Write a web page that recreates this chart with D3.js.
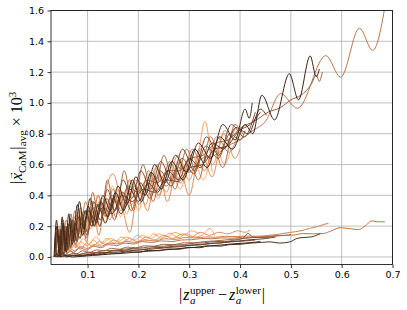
<!DOCTYPE html>
<meta charset="utf-8">
<title>CoM drift vs layer separation</title>
<style>
body { margin: 0; background: white; }
.tick line { stroke: #000; stroke-width: 0.8; }
.grid line { stroke: #b0b0b0; stroke-width: 0.8; }
.math { font-family: "Liberation Serif", "DejaVu Serif", serif; fill: #000; }
</style>
<body>
<script src="https://d3js.org/d3.v7.min.js"></script>
<script>
// tick values
const xTicks = [0.1, 0.2, 0.3, 0.4, 0.5, 0.6, 0.7];
const yTicks = [0, 0.2, 0.4, 0.6, 0.8, 1.0, 1.2, 1.4, 1.6];

// upper family of runs, darkest first (peaks / troughs)
const upperA = [[0.034,0.0],[0.039,0.24],[0.044,0.02],[0.05,0.26],[0.056,0.04],[0.063,0.28],[0.07,0.08],[0.08,0.34],[0.09,0.14],[0.101,0.33],[0.113,0.2],[0.126,0.36],[0.14,0.26],[0.155,0.42],[0.171,0.3],[0.188,0.5],[0.206,0.36],[0.225,0.55],[0.245,0.44],[0.266,0.62],[0.288,0.5],[0.311,0.7],[0.335,0.58],[0.36,0.78],[0.385,0.7],[0.41,0.86],[0.425,0.8],[0.443,1.05],[0.468,0.89],[0.497,1.19],[0.515,1.02],[0.538,1.305],[0.55,1.17],[0.556,1.22]];
const upperB = [[0.035,0.05],[0.04,0.2],[0.046,0.0],[0.052,0.22],[0.058,0.03],[0.066,0.25],[0.074,0.1],[0.084,0.36],[0.093,0.18],[0.105,0.38],[0.117,0.22],[0.13,0.4],[0.145,0.3],[0.16,0.46],[0.177,0.34],[0.195,0.52],[0.213,0.4],[0.232,0.6],[0.252,0.48],[0.273,0.66],[0.295,0.55],[0.318,0.74],[0.342,0.64],[0.366,0.86],[0.39,0.76],[0.41,0.96],[0.418,0.9],[0.424,1.0]];
const upperC = [[0.036,0.1],[0.041,0.0],[0.047,0.18],[0.053,0.02],[0.06,0.2],[0.067,0.06],[0.075,0.22],[0.085,0.12],[0.096,0.3],[0.108,0.2],[0.121,0.34],[0.135,0.22],[0.15,0.38],[0.166,0.28],[0.183,0.44],[0.2,0.36],[0.219,0.48],[0.238,0.42],[0.258,0.56],[0.279,0.5],[0.3,0.64],[0.322,0.58],[0.345,0.74],[0.368,0.7],[0.392,0.84],[0.416,0.8],[0.44,0.96],[0.452,0.92]];
const upperD = [[0.035,0.03],[0.04,0.16],[0.045,0.04],[0.051,0.2],[0.057,0.08],[0.064,0.22],[0.072,0.12],[0.081,0.26],[0.091,0.2],[0.102,0.3],[0.115,0.24],[0.13,0.32],[0.148,0.28],[0.168,0.4],[0.188,0.36],[0.21,0.44],[0.232,0.42],[0.255,0.5],[0.278,0.49],[0.302,0.58],[0.326,0.6],[0.35,0.7],[0.374,0.72],[0.398,0.82],[0.42,0.86],[0.44,0.94]];
const upperE = [[0.037,0.02],[0.043,0.14],[0.049,0.01],[0.055,0.17],[0.062,0.05],[0.07,0.24],[0.079,0.1],[0.089,0.28],[0.1,0.16],[0.112,0.36],[0.125,0.24],[0.139,0.44],[0.154,0.3],[0.17,0.5],[0.187,0.38],[0.205,0.56],[0.224,0.44],[0.244,0.62],[0.265,0.5],[0.287,0.7],[0.31,0.56],[0.334,0.78],[0.358,0.66],[0.383,0.86],[0.408,0.78],[0.43,0.94]];
const upperF = [[0.035,0.0],[0.041,0.12],[0.047,0.03],[0.054,0.2],[0.061,0.06],[0.069,0.22],[0.078,0.12],[0.088,0.26],[0.099,0.14],[0.111,0.32],[0.124,0.2],[0.138,0.38],[0.153,0.24],[0.169,0.42],[0.186,0.3],[0.204,0.48],[0.223,0.38],[0.243,0.56],[0.264,0.46],[0.286,0.64],[0.309,0.54],[0.333,0.72],[0.357,0.64],[0.38,0.8],[0.4,0.76],[0.41,0.82]];
const upperG = [[0.036,0.04],[0.042,0.18],[0.048,0.05],[0.055,0.2],[0.063,0.1],[0.072,0.24],[0.082,0.16],[0.093,0.3],[0.105,0.22],[0.118,0.34],[0.132,0.28],[0.147,0.4],[0.163,0.34],[0.18,0.46],[0.198,0.42],[0.217,0.5],[0.237,0.48],[0.258,0.56],[0.28,0.56],[0.303,0.64],[0.327,0.66],[0.352,0.74],[0.377,0.76],[0.402,0.84],[0.428,0.88],[0.455,0.94],[0.48,0.97],[0.5,1.02],[0.52,1.05],[0.54,1.12],[0.55,1.18],[0.556,1.14],[0.562,1.2]];
const upperH = [[0.035,0.06],[0.04,0.2],[0.046,0.02],[0.052,0.24],[0.059,0.04],[0.067,0.28],[0.076,0.08],[0.086,0.32],[0.097,0.12],[0.11,0.42],[0.124,0.2],[0.139,0.5],[0.155,0.26],[0.172,0.56],[0.19,0.3],[0.209,0.6],[0.229,0.36],[0.25,0.66],[0.272,0.44],[0.295,0.7],[0.318,0.5],[0.342,0.78],[0.366,0.58],[0.39,0.86],[0.405,0.8]];
const upperI = [[0.036,0.02],[0.042,0.15],[0.049,0.04],[0.057,0.2],[0.065,0.1],[0.074,0.26],[0.084,0.15],[0.096,0.3],[0.109,0.2],[0.123,0.36],[0.138,0.26],[0.155,0.4],[0.173,0.32],[0.192,0.46],[0.212,0.4],[0.233,0.52],[0.255,0.46],[0.278,0.58],[0.3,0.55],[0.325,0.64],[0.35,0.66],[0.375,0.72],[0.4,0.76],[0.425,0.82],[0.45,0.88],[0.48,1.06],[0.513,0.965],[0.569,1.307],[0.598,1.167],[0.635,1.485],[0.661,1.34],[0.69,1.72]];
const upperJ = [[0.037,0.08],[0.043,0.2],[0.05,0.06],[0.058,0.24],[0.066,0.12],[0.075,0.3],[0.085,0.16],[0.096,0.36],[0.108,0.22],[0.121,0.4],[0.135,0.26],[0.15,0.44],[0.166,0.3],[0.183,0.5],[0.201,0.34],[0.22,0.56],[0.24,0.4],[0.261,0.62],[0.283,0.48],[0.306,0.7],[0.33,0.56],[0.354,0.78],[0.378,0.68],[0.4,0.84]];
const upperK = [[0.036,0.0],[0.041,0.16],[0.047,0.0],[0.053,0.18],[0.06,0.02],[0.068,0.22],[0.077,0.06],[0.087,0.3],[0.098,0.1],[0.11,0.36],[0.122,0.14],[0.135,0.42],[0.15,0.54],[0.166,0.36],[0.183,0.16],[0.2,0.44],[0.218,0.3],[0.237,0.6],[0.257,0.36],[0.278,0.62],[0.3,0.4],[0.322,0.7],[0.345,0.52],[0.368,0.8],[0.39,0.64],[0.4,0.7]];
const upperL = [[0.035,0.02],[0.04,0.14],[0.046,0.04],[0.052,0.18],[0.059,0.06],[0.066,0.24],[0.074,0.1],[0.083,0.26],[0.093,0.14],[0.104,0.3],[0.116,0.2],[0.129,0.38],[0.144,0.24],[0.16,0.44],[0.177,0.28],[0.195,0.5],[0.214,0.34],[0.234,0.58],[0.255,0.42],[0.277,0.66],[0.3,0.5],[0.323,0.72],[0.346,0.6],[0.37,0.82],[0.383,0.78],[0.39,0.84]];
const upperM = [[0.036,0.05],[0.042,0.1],[0.048,0.02],[0.055,0.14],[0.062,0.04],[0.07,0.18],[0.079,0.1],[0.089,0.24],[0.1,0.16],[0.112,0.3],[0.125,0.24],[0.139,0.36],[0.154,0.3],[0.17,0.42],[0.187,0.34],[0.205,0.48],[0.224,0.4],[0.244,0.52],[0.265,0.46],[0.287,0.6],[0.31,0.54],[0.331,0.88],[0.345,0.55]];
const upperN = [[0.037,0.03],[0.043,0.12],[0.05,0.02],[0.057,0.16],[0.065,0.06],[0.074,0.22],[0.084,0.12],[0.095,0.3],[0.107,0.18],[0.12,0.4],[0.134,0.22],[0.149,0.46],[0.165,0.26],[0.182,0.5],[0.2,0.3],[0.219,0.54],[0.239,0.38],[0.26,0.6],[0.282,0.44],[0.305,0.66],[0.328,0.5],[0.35,0.72],[0.37,0.6],[0.38,0.68]];

// lower family of runs, darkest first
const lowerA = [[0.034,0.0],[0.04,0.02],[0.046,0.0],[0.055,0.01],[0.07,0.0],[0.09,0.005],[0.11,0.01],[0.13,0.015],[0.15,0.02],[0.17,0.024],[0.19,0.03],[0.21,0.035],[0.23,0.04],[0.25,0.046],[0.27,0.05],[0.29,0.058],[0.31,0.062],[0.33,0.07],[0.35,0.074],[0.37,0.08],[0.39,0.086],[0.41,0.09],[0.43,0.096],[0.44,0.1]];
const lowerB = [[0.035,0.01],[0.042,0.0],[0.05,0.02],[0.06,0.004],[0.075,0.012],[0.09,0.006],[0.105,0.018],[0.12,0.014],[0.14,0.026],[0.16,0.024],[0.18,0.034],[0.2,0.03],[0.22,0.042],[0.24,0.04],[0.26,0.052],[0.28,0.05],[0.3,0.062],[0.32,0.06],[0.34,0.072],[0.36,0.07],[0.38,0.08],[0.4,0.082],[0.42,0.09],[0.44,0.094],[0.459,0.098],[0.478,0.09],[0.498,0.098],[0.512,0.12],[0.524,0.126],[0.54,0.13],[0.558,0.152]];
const lowerC = [[0.035,0.02],[0.04,0.005],[0.048,0.015],[0.058,0.0],[0.07,0.01],[0.085,0.008],[0.1,0.016],[0.12,0.02],[0.14,0.03],[0.16,0.032],[0.18,0.04],[0.2,0.044],[0.22,0.05],[0.24,0.055],[0.26,0.062],[0.28,0.066],[0.3,0.074],[0.32,0.078],[0.34,0.088],[0.36,0.09],[0.38,0.1],[0.4,0.104],[0.42,0.112],[0.44,0.116],[0.46,0.124],[0.47,0.13]];
const lowerD = [[0.036,0.0],[0.044,0.01],[0.052,0.002],[0.062,0.014],[0.075,0.01],[0.09,0.02],[0.105,0.018],[0.12,0.03],[0.135,0.028],[0.15,0.04],[0.17,0.042],[0.19,0.052],[0.21,0.05],[0.23,0.06],[0.25,0.062],[0.27,0.07],[0.29,0.072],[0.31,0.08],[0.33,0.082],[0.35,0.09],[0.37,0.094],[0.39,0.1],[0.41,0.104],[0.43,0.11]];
const lowerE = [[0.035,0.03],[0.042,0.01],[0.05,0.03],[0.06,0.01],[0.072,0.024],[0.085,0.016],[0.1,0.03],[0.115,0.028],[0.13,0.04],[0.15,0.042],[0.17,0.05],[0.19,0.056],[0.21,0.06],[0.23,0.068],[0.25,0.07],[0.27,0.078],[0.29,0.08],[0.31,0.09],[0.33,0.092],[0.35,0.1],[0.37,0.1],[0.39,0.11],[0.405,0.12],[0.416,0.153],[0.425,0.13],[0.44,0.126],[0.46,0.13]];
const lowerF = [[0.036,0.01],[0.045,0.03],[0.055,0.015],[0.066,0.035],[0.078,0.02],[0.09,0.04],[0.104,0.03],[0.118,0.046],[0.132,0.04],[0.147,0.056],[0.162,0.05],[0.178,0.064],[0.195,0.06],[0.212,0.072],[0.23,0.07],[0.25,0.082],[0.27,0.08],[0.29,0.092],[0.31,0.092],[0.33,0.1],[0.35,0.104],[0.37,0.11],[0.39,0.116],[0.41,0.12],[0.43,0.128],[0.45,0.13],[0.47,0.138],[0.49,0.14],[0.5,0.146]];
const lowerG = [[0.035,0.02],[0.043,0.04],[0.052,0.02],[0.062,0.05],[0.073,0.03],[0.085,0.06],[0.098,0.045],[0.112,0.07],[0.126,0.06],[0.141,0.08],[0.157,0.074],[0.173,0.09],[0.19,0.084],[0.208,0.1],[0.226,0.094],[0.245,0.104],[0.265,0.1],[0.285,0.11],[0.305,0.112],[0.325,0.12],[0.345,0.118],[0.365,0.124],[0.385,0.122],[0.405,0.128],[0.425,0.126],[0.445,0.13],[0.465,0.134],[0.485,0.14],[0.505,0.142],[0.525,0.152],[0.545,0.15],[0.564,0.152],[0.58,0.17],[0.597,0.19],[0.615,0.184],[0.633,0.178],[0.646,0.2],[0.659,0.234],[0.672,0.228],[0.685,0.228]];
const lowerH = [[0.036,0.03],[0.044,0.05],[0.053,0.03],[0.063,0.06],[0.074,0.04],[0.086,0.07],[0.099,0.055],[0.113,0.08],[0.127,0.07],[0.142,0.09],[0.158,0.085],[0.175,0.1],[0.193,0.094],[0.212,0.11],[0.232,0.104],[0.252,0.118],[0.272,0.114],[0.292,0.126],[0.312,0.124],[0.332,0.13],[0.352,0.128],[0.372,0.134],[0.392,0.132],[0.412,0.136],[0.432,0.134],[0.45,0.138],[0.47,0.145],[0.498,0.159],[0.52,0.17],[0.537,0.185],[0.555,0.2],[0.567,0.213],[0.574,0.218]];
const lowerI = [[0.035,0.04],[0.041,0.06],[0.048,0.03],[0.056,0.07],[0.065,0.04],[0.075,0.08],[0.086,0.05],[0.098,0.09],[0.11,0.07],[0.123,0.1],[0.137,0.08],[0.151,0.11],[0.166,0.09],[0.182,0.12],[0.198,0.1],[0.215,0.13],[0.232,0.11],[0.25,0.14],[0.268,0.12],[0.286,0.15],[0.304,0.13],[0.322,0.16],[0.34,0.14],[0.358,0.16],[0.376,0.15],[0.395,0.17],[0.41,0.16],[0.42,0.175]];
const lowerJ = [[0.036,0.05],[0.042,0.03],[0.049,0.07],[0.057,0.04],[0.066,0.09],[0.076,0.06],[0.087,0.1],[0.099,0.07],[0.111,0.11],[0.124,0.08],[0.138,0.12],[0.152,0.09],[0.167,0.13],[0.182,0.1],[0.198,0.14],[0.214,0.11],[0.23,0.15],[0.246,0.12],[0.262,0.155],[0.278,0.125],[0.294,0.15],[0.31,0.13],[0.325,0.14],[0.341,0.185],[0.35,0.14]];
const lowerK = [[0.035,0.02],[0.04,0.08],[0.046,0.03],[0.053,0.1],[0.061,0.05],[0.07,0.11],[0.08,0.07],[0.091,0.12],[0.103,0.08],[0.116,0.13],[0.13,0.09],[0.145,0.12],[0.16,0.1],[0.176,0.13],[0.192,0.11],[0.208,0.14],[0.224,0.12],[0.24,0.15],[0.256,0.13],[0.272,0.16],[0.288,0.14],[0.304,0.17],[0.32,0.15]];

const upperRuns = [upperA, upperB, upperC, upperD, upperE, upperF, upperG, upperH, upperI, upperJ, upperK, upperL, upperM, upperN];
const lowerRuns = [lowerA, lowerB, lowerC, lowerD, lowerE, lowerF, lowerG, lowerH, lowerI, lowerJ, lowerK];

const width = 407, height = 310;
const margin = {top: 10.5, right: 14.5, bottom: 45.5, left: 51};

const x = d3.scaleLinear().domain([0.028, 0.7]).range([margin.left, width - margin.right]);
const y = d3.scaleLinear().domain([-0.049, 1.6]).range([height - margin.bottom, margin.top]);

// matplotlib "copper"
function copper(t) {
  return d3.rgb(Math.min(1, 1.25 * t) * 255, 0.7812 * t * 255, 0.4975 * t * 255).formatHex();
}

const svg = d3.select("body").append("svg")
    .attr("width", width)
    .attr("height", height);

svg.append("defs").append("clipPath").attr("id", "plotclip")
  .append("rect")
    .attr("x", margin.left).attr("y", margin.top)
    .attr("width", width - margin.left - margin.right)
    .attr("height", height - margin.top - margin.bottom);

// grid
const grid = svg.append("g").attr("class", "grid");
grid.selectAll(".gx").data(xTicks).enter().append("line")
    .attr("x1", d => x(d)).attr("x2", d => x(d))
    .attr("y1", margin.top).attr("y2", height - margin.bottom);
grid.selectAll(".gy").data(yTicks).enter().append("line")
    .attr("x1", margin.left).attr("x2", width - margin.right)
    .attr("y1", d => y(d)).attr("y2", d => y(d));

// runs: lighter drawn first, darker on top
const runs = [];
upperRuns.forEach((d, i) => runs.push({pts: d, t: 0.18 + 0.67 * i / (upperRuns.length - 1)}));
lowerRuns.forEach((d, i) => runs.push({pts: d, t: 0.18 + 0.67 * i / (lowerRuns.length - 1)}));
runs.sort((a, b) => b.t - a.t);

const line = d3.line()
    .x(d => x(d[0]))
    .y(d => y(d[1]))
    .curve(d3.curveMonotoneX);

svg.append("g").attr("clip-path", "url(#plotclip)")
  .selectAll("path").data(runs).enter().append("path")
    .attr("fill", "none")
    .attr("stroke", d => copper(d.t))
    .attr("stroke-width", 1)
    .attr("d", d => line(d.pts));

// axes
const xAxis = svg.append("g")
    .attr("transform", "translate(0," + (height - margin.bottom) + ")")
    .call(d3.axisBottom(x).tickValues(xTicks).tickSize(3.5).tickPadding(3.5).tickFormat(d3.format(".1f")));
xAxis.select(".domain").remove();

const yAxis = svg.append("g")
    .attr("transform", "translate(" + margin.left + ",0)")
    .call(d3.axisLeft(y).tickValues(yTicks).tickSize(3.5).tickPadding(3.5).tickFormat(d3.format(".1f")));
yAxis.select(".domain").remove();
svg.selectAll(".tick text")
    .style("font-family", "'DejaVu Sans', sans-serif")
    .style("font-size", "9.5px")
    .style("fill", "#000");

// frame
svg.append("rect")
    .attr("x", margin.left).attr("y", margin.top)
    .attr("width", width - margin.left - margin.right)
    .attr("height", height - margin.top - margin.bottom)
    .attr("fill", "none").attr("stroke", "#000").attr("stroke-width", 0.8);

// small helper to lay out math-like labels piece by piece
function mathLabel(g, pieces, big, small) {
  let cx = 0;
  pieces.forEach(p => {
    if (p.stack) {
      let w = 0;
      p.stack.forEach(s => {
        const t = g.append("text").attr("class", "math")
          .attr("x", cx).attr("y", s.dy)
          .attr("font-size", small)
          .attr("font-style", s.it ? "italic" : "normal")
          .text(s.t);
        w = Math.max(w, t.node().getComputedTextLength());
      });
      cx += w + 1;
    } else {
      const t = g.append("text").attr("class", "math")
        .attr("x", cx).attr("y", p.dy || 0)
        .attr("font-size", p.sub ? small : big)
        .attr("font-style", p.it ? "italic" : "normal")
        .text(p.t);
      const w = t.node().getComputedTextLength();
      if (p.arrow) {
        g.append("text").attr("class", "math")
          .attr("x", cx + w / 2 + 1).attr("y", -9)
          .attr("font-size", 9).attr("text-anchor", "middle")
          .text("\u2192");
      }
      cx += w + (p.gap || 0);
    }
  });
  g.selectAll("text").attr("transform", "translate(" + (-cx / 2) + ",0)");
  return cx;
}

const xl = svg.append("g").attr("transform", "translate(222,299.5)");
mathLabel(xl, [
  {t: "|", gap: 1},
  {t: "z", it: true, gap: 0.5},
  {stack: [{t: "upper", dy: -6}, {t: "a", dy: 4, it: true}]},
  {t: "\u2212", gap: 4},
  {t: "z", it: true, gap: 0.5},
  {stack: [{t: "lower", dy: -6}, {t: "a", dy: 4, it: true}]},
  {t: "|"}
], 16, 11);
// add spacing before the minus sign
xl.selectAll("text").filter(function() { return this.textContent === "\u2212"; })
  .attr("x", function() { return +this.getAttribute("x") + 2; });

const yl = svg.append("g").attr("transform", "translate(22,138) rotate(-90)");
mathLabel(yl, [
  {t: "|", gap: 1},
  {t: "x", it: true, arrow: true},
  {t: "CoM", sub: true, dy: 3.5, gap: 0.5},
  {t: "|", gap: 0.5},
  {t: "avg", sub: true, dy: 3.5, gap: 4},
  {t: "\u00d7", gap: 4},
  {t: "10"},
  {t: "3", sub: true, dy: -6}
], 16, 11);
</script>
</body>
